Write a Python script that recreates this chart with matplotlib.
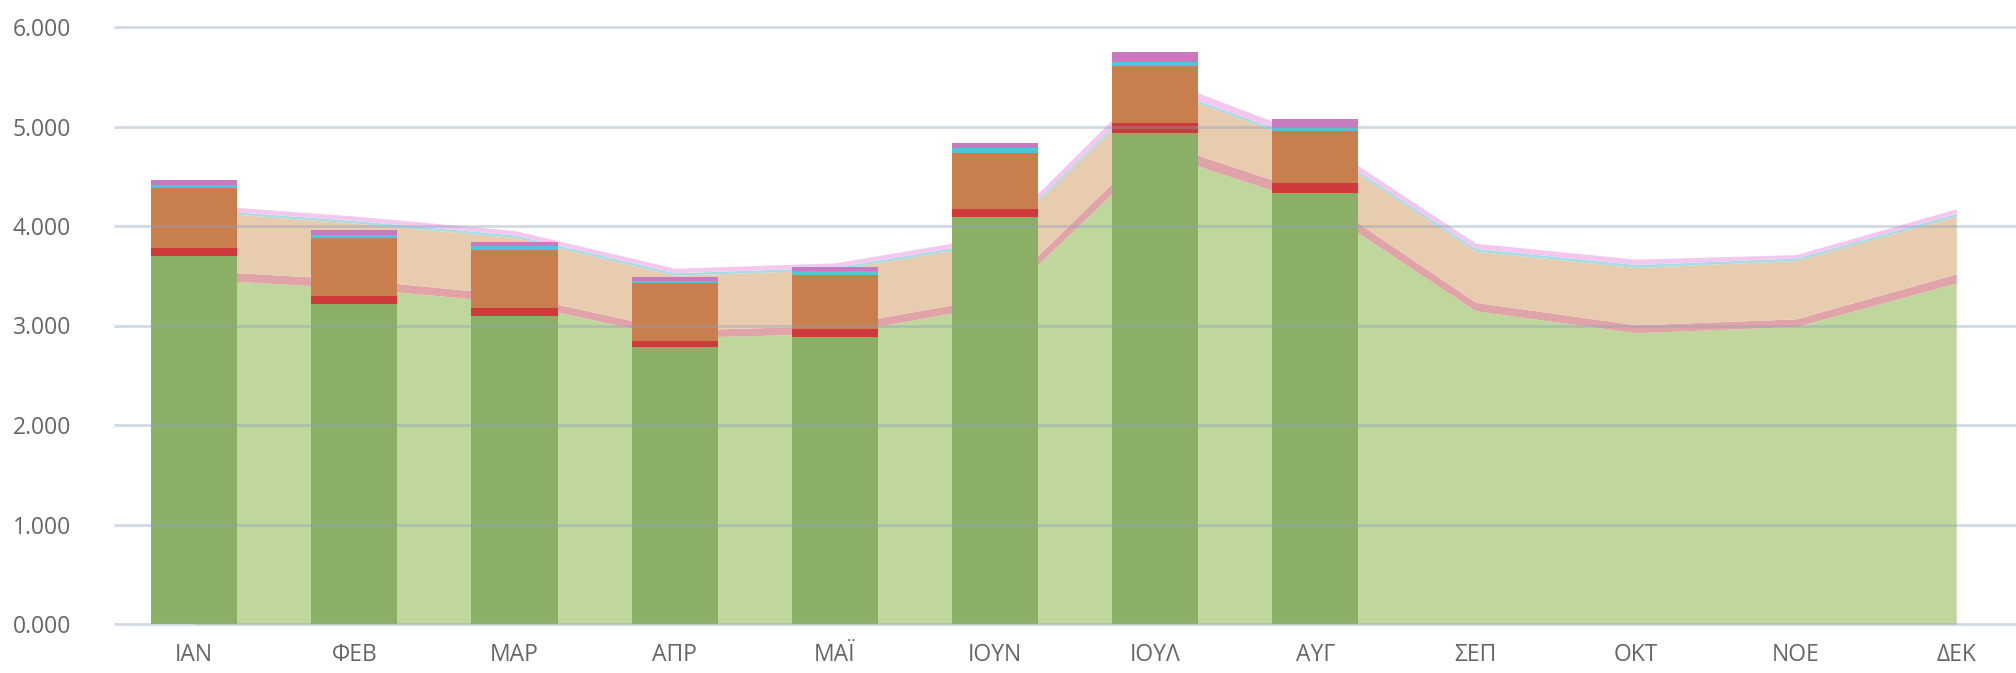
import numpy as np
import matplotlib
matplotlib.use("Agg")
import matplotlib.pyplot as plt

plt.rcParams['font.family'] = ['Open Sans', 'DejaVu Sans']

# months (greek)
months = ['ΙΑΝ', 'ΦΕΒ', 'ΜΑΡ', 'ΑΠΡ', 'ΜΑΪ', 'ΙΟΥΝ', 'ΙΟΥΛ', 'ΑΥΓ', 'ΣΕΠ', 'ΟΚΤ', 'ΝΟΕ', 'ΔΕΚ']

# current year bars (Jan-Aug)
bar_green = [3702, 3219, 3099, 2787, 2887, 4093, 4933, 4333]
bar_red = [81, 81, 80, 60, 80, 80, 100, 100]
bar_orange = [603, 583, 584, 580, 540, 560, 580, 520]
bar_cyan = [24, 24, 40, 23, 40, 47, 40, 27]
bar_purple = [57, 57, 40, 37, 40, 53, 100, 93]

# previous year area (Jan-Dec)
area_green = [3466, 3378, 3228, 2880, 2918, 3200, 4744, 4215, 3147, 2927, 2990, 3427]
area_red = [90, 85, 80, 75, 80, 85, 110, 105, 86, 80, 77, 93]
area_tan = [593, 567, 577, 550, 562, 545, 541, 485, 514, 576, 586, 580]
area_cyan = [25, 25, 25, 25, 25, 25, 25, 25, 28, 30, 25, 25]
area_pink = [45, 45, 45, 45, 45, 45, 80, 60, 52, 54, 35, 48]

yticks = [0, 1000, 2000, 3000, 4000, 5000, 6000]
ytick_labels = ['0.000', '1.000', '2.000', '3.000', '4.000', '5.000', '6.000']

bar_colors = ['#8BAF67', '#CF3A3A', '#C97E4E', '#4EC5D9', '#C979C0']
area_colors = ['#BFD69D', '#E0A3A8', '#E8CCAF', '#A5DDE5', '#F4C8EE']

fig = plt.figure(figsize=(20.16, 6.73), dpi=100)
ax = fig.add_axes([114 / 2016, 1 - 624 / 673, 1 - 114 / 2016, (624 - 27) / 673])
xmin, xmax = -0.5, 11.373

x_all = np.arange(len(months))
base = np.zeros(len(months))
for vals, col in zip([area_green, area_red, area_tan, area_cyan, area_pink], area_colors):
    top = base + np.array(vals)
    ax.fill_between(x_all, base, top, color=col, linewidth=0, zorder=1)
    base = top

x_bar = np.arange(len(bar_green))
bottom = np.zeros(len(bar_green))
for vals, col in zip([bar_green, bar_red, bar_orange, bar_cyan, bar_purple], bar_colors):
    ax.bar(x_bar, vals, width=0.537, bottom=bottom, color=col, linewidth=0, zorder=2)
    bottom = bottom + np.array(vals)

for y in yticks:
    ax.plot([xmin, xmax], [y, y], color=(0.55, 0.63, 0.74), alpha=0.4,
            linewidth=2, zorder=3, clip_on=False, solid_capstyle='butt')

ax.set_xlim(xmin, xmax)
ax.set_ylim(0, 6000)
ax.set_xticks(x_all)
ax.set_xticklabels(months)
ax.set_yticks(yticks)
ax.set_yticklabels(ytick_labels)
ax.tick_params(axis='both', length=0, labelsize=16.5, colors='#666666')
ax.tick_params(axis='x', pad=14)
ax.tick_params(axis='y', pad=31)
for s in ax.spines.values():
    s.set_visible(False)

fig.savefig('out.png', dpi=100)
